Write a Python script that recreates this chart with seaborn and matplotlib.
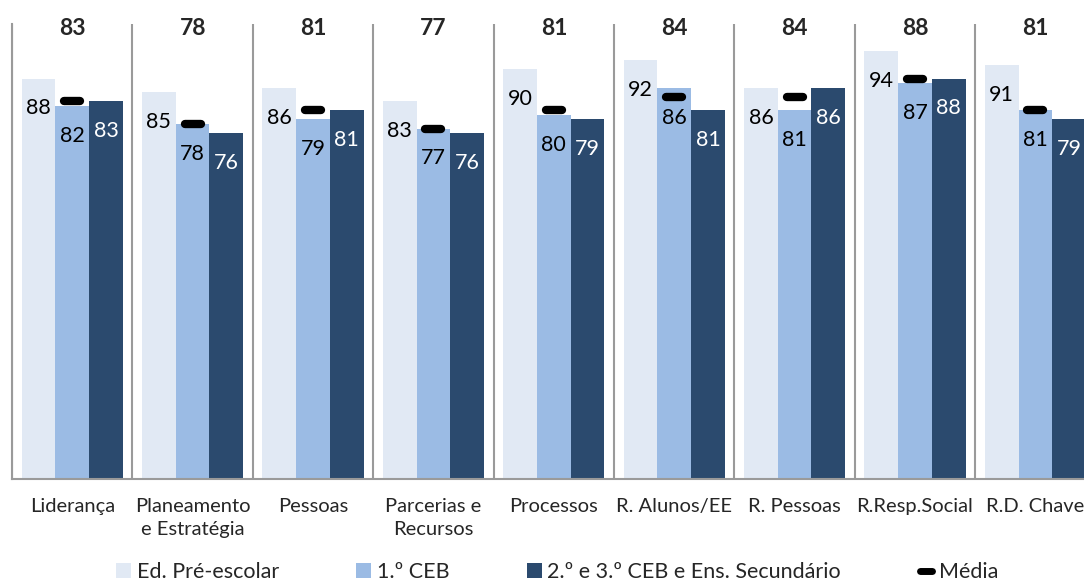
import pandas as pd
import matplotlib.pyplot as plt
import seaborn as sns
from matplotlib.patches import Patch
from matplotlib.lines import Line2D
from matplotlib.markers import MarkerStyle

categories = ["Liderança", "Planeamento\ne Estratégia", "Pessoas", "Parcerias e\nRecursos",
              "Processos", "R. Alunos/EE", "R. Pessoas", "R.Resp.Social", "R.D. Chave"]
series = ["Ed. Pré-escolar", "1.º CEB", "2.º e 3.º CEB e Ens. Secundário"]
pre_escolar = [88, 85, 86, 83, 90, 92, 86, 94, 91]
ceb1 = [82, 78, 79, 77, 80, 86, 81, 87, 81]
ceb23 = [83, 76, 81, 76, 79, 81, 86, 88, 79]
media = [83, 78, 81, 77, 81, 84, 84, 88, 81]

colors = ["#E1E9F4", "#9BBBE4", "#2B4A6E"]
label_colors = ["black", "black", "white"]
grey = "#9A9A9A"

rows = []
for s, vals in zip(series, [pre_escolar, ceb1, ceb23]):
    for c, v in zip(categories, vals):
        rows.append({"cat": c, "serie": s, "val": v})
df = pd.DataFrame(rows)

sns.set_theme(style="white")
plt.rcParams["font.family"] = ["Lato", "DejaVu Sans"]

fig = plt.figure(figsize=(10.84, 5.82), dpi=100)
ax = fig.add_axes([0.0111, 0.1777, 0.9996, 0.7811])

sns.barplot(data=df, x="cat", y="val", hue="serie", palette=colors, width=0.84,
            gap=0, saturation=1, legend=False, errorbar=None, ax=ax, linewidth=0)

ax.set_xlim(-0.5, 8.5)
ax.set_ylim(0, 100)

# value labels inside bars
for cont, tc in zip(ax.containers, label_colors):
    for p in cont.patches:
        x = p.get_x() + p.get_width() / 2
        h = p.get_height()
        ax.text(x, h - 7.9, f"{h:.0f}", ha="center", va="baseline", fontsize=15.5, color=tc)

# average markers over the middle bar + bold average on top
mark = MarkerStyle("_", capstyle="round")
for i, m in enumerate(media):
    ax.plot(i, m, linestyle="none", marker=mark, markersize=11, markeredgewidth=6, color="black")
    ax.text(i, 97.65, str(m), ha="center", va="baseline", fontsize=16.5,
            fontweight="bold", clip_on=False)

# group separators
bounds = [i - 0.5 for i in range(len(categories) + 1)]
ax.vlines(bounds, 0, 100, color=grey, lw=1.5)

ax.set_xticks(range(len(categories)))
ax.set_xticklabels(categories, fontsize=14.5, linespacing=1.4)
ax.set_xticks(bounds, minor=True)
ax.tick_params(axis="x", which="major", length=0, pad=14)
ax.tick_params(axis="x", which="minor", length=4.5, width=1.5, color=grey, direction="out")
ax.set_yticks([])
ax.set_xlabel("")
ax.set_ylabel("")
for sp in ["top", "right"]:
    ax.spines[sp].set_visible(False)
for sp in ["left", "bottom"]:
    ax.spines[sp].set_color(grey)
    ax.spines[sp].set_linewidth(1.5)

handles = [Patch(facecolor=c, edgecolor="none") for c in colors]
handles.append(Line2D([], [], linestyle="none", marker=mark, markersize=8,
                      markeredgewidth=5, color="black"))
fig.legend(handles, series + ["Média"], loc="lower center", bbox_to_anchor=(0.514, -0.034),
           ncol=4, frameon=False, fontsize=15.5, handlelength=0.7, handleheight=0.7,
           handletextpad=0.25, columnspacing=3.6)

fig.savefig("out.png", dpi=100)
